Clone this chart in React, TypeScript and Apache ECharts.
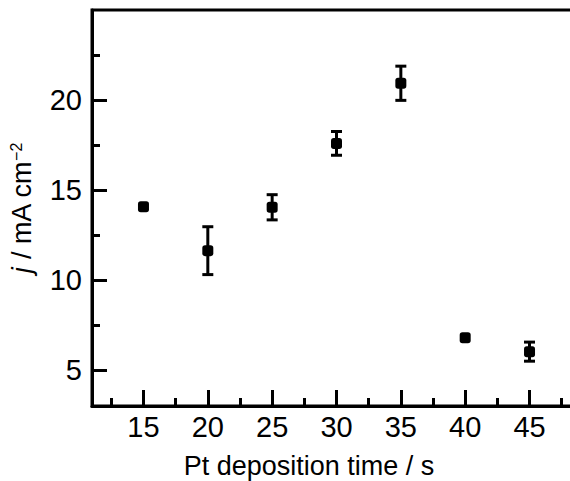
import React, { useEffect, useRef } from "react";
import * as echarts from "echarts";

const depositionTime = [15, 20, 25, 30, 35, 40, 45];
const currentDensity = [14.07, 11.63, 14.04, 17.59, 20.93, 6.79, 6.02];
const errorValues = [0, 1.33, 0.7, 0.66, 0.95, 0, 0.53];
const xMajorTicks = [15, 20, 25, 30, 35, 40, 45];
const xMinorTicks = [12.5, 17.5, 22.5, 27.5, 32.5, 37.5, 42.5, 47.5];
const yMajorTicks = [5, 10, 15, 20];
const yMinorTicks = [7.5, 12.5, 17.5, 22.5];

const FONT = "'Liberation Sans', Arial, Helvetica, sans-serif";

export default function App() {
  const ref = useRef<HTMLDivElement>(null);
  useEffect(() => {
    if (!ref.current) return;
    const chart = echarts.init(ref.current, undefined, { renderer: "svg" });
    const points = depositionTime.map((x, i) => [x, currentDensity[i]]);
    const errData = depositionTime
      .map((x, i) => [x, currentDensity[i] - errorValues[i], currentDensity[i] + errorValues[i], errorValues[i]])
      .filter((d) => d[3] > 0);
    const lineStyle = { stroke: "#000", lineWidth: 3 };
    chart.setOption({
      animation: false,
      backgroundColor: "#fff",
      grid: {
        left: 92,
        top: 10,
        width: 489,
        height: 396,
        show: true,
        borderColor: "#000",
        borderWidth: 3,
        backgroundColor: "transparent",
        containLabel: false,
        outerBoundsMode: "none",
      },
      xAxis: [
        {
          type: "value",
          min: 11,
          max: 49,
          position: "bottom",
          axisLine: { show: true, onZero: false, lineStyle: { color: "#000", width: 3 } },
          axisTick: { show: true, inside: true, length: 16, customValues: xMajorTicks, lineStyle: { color: "#000", width: 3 } },
          axisLabel: { show: true, customValues: xMajorTicks, margin: 6, color: "#000", fontSize: 29, fontFamily: FONT },
          splitLine: { show: false },
        },
        {
          type: "value",
          min: 11,
          max: 49,
          position: "bottom",
          offset: 0,
          axisLine: { show: false },
          axisTick: { show: true, inside: true, length: 8, customValues: xMinorTicks, lineStyle: { color: "#000", width: 3 } },
          axisLabel: { show: false },
          splitLine: { show: false },
        },
      ],
      yAxis: [
        {
          type: "value",
          min: 3,
          max: 25,
          position: "left",
          axisLine: { show: true, onZero: false, lineStyle: { color: "#000", width: 3 } },
          axisTick: { show: true, inside: true, length: 15, customValues: yMajorTicks, lineStyle: { color: "#000", width: 3 } },
          axisLabel: { show: true, customValues: yMajorTicks, margin: 10, color: "#000", fontSize: 29, fontFamily: FONT },
          splitLine: { show: false },
          name: "{it|j} / mA cm{sup|\u22122}",
          nameLocation: "middle",
          nameGap: 57,
          nameRotate: 90,
          nameTextStyle: {
            color: "#000",
            fontSize: 27,
            fontFamily: FONT,
            rich: {
              it: { fontStyle: "italic", fontSize: 27, fontFamily: FONT, color: "#000" },
              sup: { fontSize: 16, fontFamily: FONT, color: "#000", verticalAlign: "top" },
            },
          },
        },
        {
          type: "value",
          min: 3,
          max: 25,
          position: "left",
          offset: 0,
          axisLine: { show: false },
          axisTick: { show: true, inside: true, length: 8, customValues: yMinorTicks, lineStyle: { color: "#000", width: 3 } },
          axisLabel: { show: false },
          splitLine: { show: false },
        },
      ],
      graphic: [
        {
          type: "text",
          x: 309,
          y: 466,
          style: {
            text: "Pt deposition time / s",
            fill: "#000",
            font: `27px ${FONT}`,
            textAlign: "center",
            textVerticalAlign: "middle",
          },
        },
      ],
      series: [
        {
          type: "custom",
          xAxisIndex: 0,
          yAxisIndex: 0,
          data: errData,
          z: 2,
          renderItem: (params: any, api: any) => {
            const x = api.value(0);
            const lo = api.coord([x, api.value(1)]);
            const hi = api.coord([x, api.value(2)]);
            const hw = 5.5;
            return {
              type: "group",
              children: [
                { type: "line", shape: { x1: lo[0], y1: lo[1], x2: hi[0], y2: hi[1] }, style: lineStyle },
                { type: "line", shape: { x1: lo[0] - hw, y1: lo[1], x2: lo[0] + hw, y2: lo[1] }, style: lineStyle },
                { type: "line", shape: { x1: hi[0] - hw, y1: hi[1], x2: hi[0] + hw, y2: hi[1] }, style: lineStyle },
              ],
            };
          },
        },
        {
          type: "scatter",
          xAxisIndex: 0,
          yAxisIndex: 0,
          data: points,
          symbol: "roundRect",
          symbolSize: 11,
          itemStyle: { color: "#000", opacity: 1 },
          z: 3,
        },
      ],
    });
    return () => chart.dispose();
  }, []);
  return (
    <div
      ref={ref}
      style={{ position: "fixed", left: 0, top: 0, width: 570, height: 481, background: "#fff" }}
    />
  );
}
